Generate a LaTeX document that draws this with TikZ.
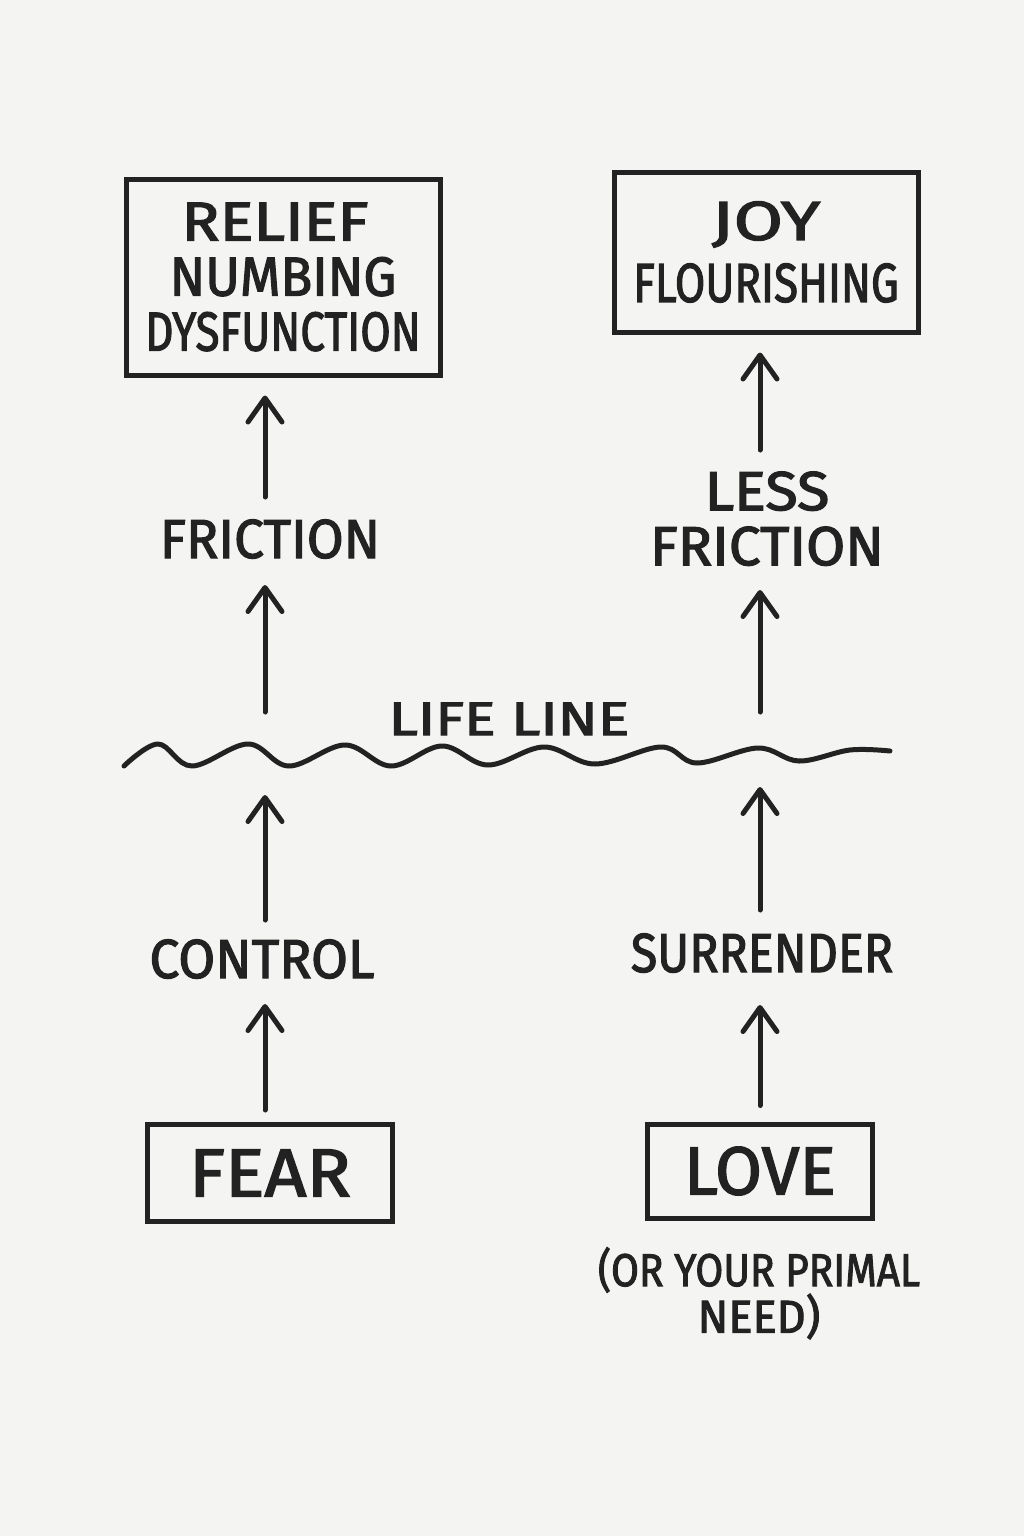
\documentclass[tikz,border=0pt]{standalone}
\usepackage{fontspec}
\setmainfont{Fira Sans}
\newfontfamily\hand{Fira Sans}[FakeBold=2.2]
\usetikzlibrary{arrows.meta}
\definecolor{ink}{HTML}{222222}
\definecolor{paper}{HTML}{F4F4F2}
\newcommand\sx[2]{\scalebox{#1}[1]{#2}}
\begin{document}
\begin{tikzpicture}[x=1pt,y=-1pt,
  ink/.style={draw=ink,line width=5pt},
  boxnode/.style={ink,rectangle,inner sep=0pt,align=center,text=ink},
  lbl/.style={inner sep=0pt,align=center,text=ink,anchor=base},
  arr/.style={draw=ink,line width=5pt,line cap=round,-{Straight Barb[length=24pt,width=34pt,line width=5pt,round]}},
  fA/.style={font=\fontsize{55}{55}\selectfont\hand},
  fB/.style={font=\fontsize{55}{62}\selectfont\hand},
  fC/.style={font=\fontsize{47}{47}\selectfont\hand},
  fD/.style={font=\fontsize{68}{68}\selectfont\hand},
  fE/.style={font=\fontsize{46}{44}\selectfont\hand}]
\fill[paper] (0,0) rectangle (1024,1536);
\useasboundingbox (0,0) rectangle (1024,1536);
% boxes
\node[boxnode,fA,minimum width=314pt,minimum height=196pt] (relief) at (283,277) {\sx{1.15}{RELIEF}\hspace*{16pt}\\\sx{0.95}{NUMBING}\\\sx{0.8}{DYSFUNCTION}};
\node[boxnode,fB,minimum width=304pt,minimum height=160pt] (joy) at (766,252) {\sx{1.3}{JOY}\\\sx{0.8}{FLOURISHING}};
\node[boxnode,fD,minimum width=245pt,minimum height=97pt] (fear) at (270,1173) {\sx{1.08}{FEAR}};
\node[boxnode,fD,minimum width=225pt,minimum height=94pt] (love) at (760,1171) {\sx{1.0}{LOVE}};
% labels
\node[lbl,fA] (friction) at (270,558) {\sx{0.97}{FRICTION}};
\node[lbl,fA,anchor=south] (lessfriction) at (767,566) {\sx{1.08}{LESS}\\\sx{1.03}{FRICTION}};
\node[lbl,fC] (lifeline) at (509,735) {\sx{1.25}{LIFE LINE}};
\node[lbl,fA] (control) at (262,978) {\sx{0.97}{CONTROL}};
\node[lbl,fA] (surrender) at (762,972) {\sx{0.88}{SURRENDER}};
\node[lbl,fE,anchor=north] (primal) at (759,1247) {\sx{0.88}{(OR YOUR PRIMAL}\\\sx{0.98}{NEED)}};
% life line
\draw[ink,line cap=round,line join=round] plot[smooth,tension=0.6] coordinates {(124,766) (158,744) (192,766) (248,744) (289,766) (345,745) (391,766) (442,746) (488,765) (544,747) (595,764) (661,747) (697,763) (758,748) (799,761) (850,750) (890,751)};
\coordinate (wl) at (265,758);
\coordinate (wr) at (760,755);
% left arrows
\draw[arr,shorten <=12pt,shorten >=26pt] (fear.north -| wl) -- (control.base -| wl);
\draw[arr,shorten <=0pt,shorten >=37pt] ([yshift=36pt]control.base -| wl) ++(0,-22) -- (wl);
\draw[arr,shorten <=46pt,shorten >=27pt] (wl) -- (friction.base -| wl);
\draw[arr,shorten <=61pt,shorten >=18pt] (friction.base -| wl) -- (relief.south -| wl);
% right arrows
\draw[arr,shorten <=16pt,shorten >=33pt] (love.north -| wr) -- (surrender.base -| wr);
\draw[arr,shorten <=62pt,shorten >=32pt] (surrender.base -| wr) -- (wr);
\draw[arr,shorten <=43pt,shorten >=24pt] (wr) -- (lessfriction.south -| wr);
\draw[arr,shorten <=116pt,shorten >=18pt] (lessfriction.south -| wr) -- (joy.south -| wr);
\end{tikzpicture}
\end{document}
